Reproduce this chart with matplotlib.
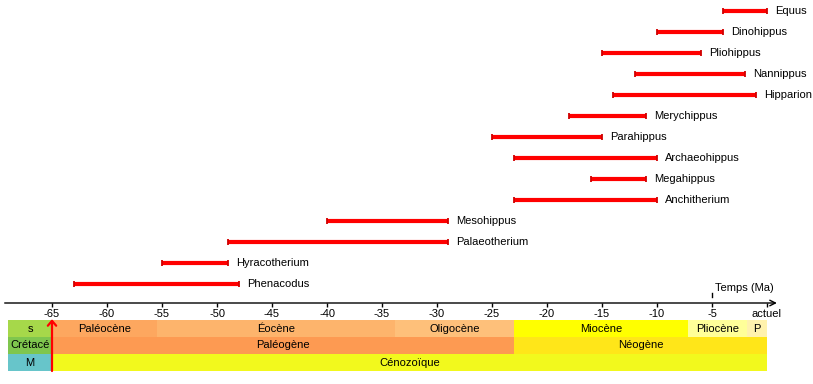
import matplotlib
matplotlib.use("Agg")
import matplotlib.pyplot as plt

plt.rcParams["font.family"] = ["Liberation Sans", "DejaVu Sans"]
plt.rcParams["axes.unicode_minus"] = False

#############################################
# DONNEES
#############################################

especes = ["Phenacodus", "Hyracotherium", "Palaeotherium", "Mesohippus",
           "Anchitherium", "Megahippus", "Archaeohippus", "Parahippus",
           "Merychippus", "Hipparion", "Nannippus", "Pliohippus",
           "Dinohippus", "Equus"]
debut = [-63, -55, -49, -40, -23, -16, -23, -25, -18, -14, -12, -15, -10, -4]
fin = [-48, -49, -29, -29, -10, -11, -10, -15, -11, -1, -2, -6, -4, 0]

graduations = list(range(-65, 1, 5))
etiquettes = [str(g) for g in graduations[:-1]] + ["actuel"]

epoques = ["s", "Paléocène", "Éocène", "Oligocène", "Miocène", "Pliocène", "P"]
epoque_debut = [-69, -65, -55.5, -33.8, -23, -7.2, -1.8]
epoque_fin = [-65, -55.5, -33.8, -23, -7.2, -1.8, 0]
epoque_couleurs = ["#A6D84A", "#FDA75F", "#FDB46C", "#FEC07A", "#FFFF00", "#FFFF99", "#FFF2AE"]

periodes = ["Crétacé", "Paléogène", "Néogène"]
periode_debut = [-69, -65, -23]
periode_fin = [-65, -23, 0]
periode_couleurs = ["#7FC64E", "#FD9A52", "#FFE619"]

eres = ["M", "Cénozoïque"]
ere_debut = [-69, -65]
ere_fin = [-65, 0]
ere_couleurs = ["#67C5CA", "#F2F91D"]

limite_kt = -65

#############################################
# FIGURE
#############################################

fig = plt.figure(figsize=(8.13, 3.84), dpi=100)
xmin, xmax = -767 / 11, 46 / 11

# Partie haute : durees des genres
ax = fig.add_axes([0, 1 - 303 / 384, 1, 303 / 384])
ax.set_xlim(xmin, xmax)
ybas = -19 / 21
ax.set_ylim(ybas, 284 / 21)

rangs = list(range(len(especes)))
ax.hlines(rangs, debut, fin, color="#ff0000", lw=3)
ax.plot(debut, rangs, "|", color="#d00000", ms=5, mew=1.3)
ax.plot(fin, rangs, "|", color="#d00000", ms=5, mew=1.3)
for nom, f, r in zip(especes, fin, rangs):
    ax.annotate(nom, (f, r), xytext=(5.5, 0), textcoords="offset points",
                va="center", ha="left", fontsize=8)

for s in ax.spines.values():
    s.set_visible(False)
ax.set_yticks([])
ax.set_xticks(graduations)
ax.set_xticklabels(etiquettes, fontsize=8)
ax.tick_params(axis="x", direction="out", length=3, width=1, pad=1)

# axe du temps avec fleche
ax.annotate("", xy=(0.9, ybas), xytext=(-69.3, ybas),
            arrowprops=dict(arrowstyle="->", lw=1, color="black",
                            shrinkA=0, shrinkB=0),
            annotation_clip=False)
ax.plot([-5, -5], [ybas + 0.28, ybas + 0.47], color="black", lw=1)
ax.annotate("Temps (Ma)", (-5, ybas), xytext=(2.5, 7), textcoords="offset points",
            ha="left", va="bottom", fontsize=8)

# Partie basse : echelle des temps geologiques
axb = fig.add_axes([0, 1 - 371 / 384, 1, 51 / 384])
axb.set_xlim(xmin, xmax)
axb.set_ylim(3, 0)
axb.axis("off")

rangees = [(epoques, epoque_debut, epoque_fin, epoque_couleurs),
           (periodes, periode_debut, periode_fin, periode_couleurs),
           (eres, ere_debut, ere_fin, ere_couleurs)]
for ligne, (noms, d, f, couleurs) in enumerate(rangees):
    for nom, a, b, c in zip(noms, d, f, couleurs):
        axb.barh(ligne, b - a, left=a, height=1, align="edge", color=c, lw=0)
        axb.text((a + b) / 2, ligne + 0.5, nom, ha="center", va="center", fontsize=8)

# limite Cretace / Paleogene
axb.annotate("", xy=(limite_kt, -0.05), xytext=(limite_kt, 3),
             arrowprops=dict(arrowstyle="->,head_length=0.35,head_width=0.3",
                             lw=1.6, color="red", shrinkA=0, shrinkB=0),
             annotation_clip=False)

plt.savefig("out.png", dpi=100, facecolor="white")
